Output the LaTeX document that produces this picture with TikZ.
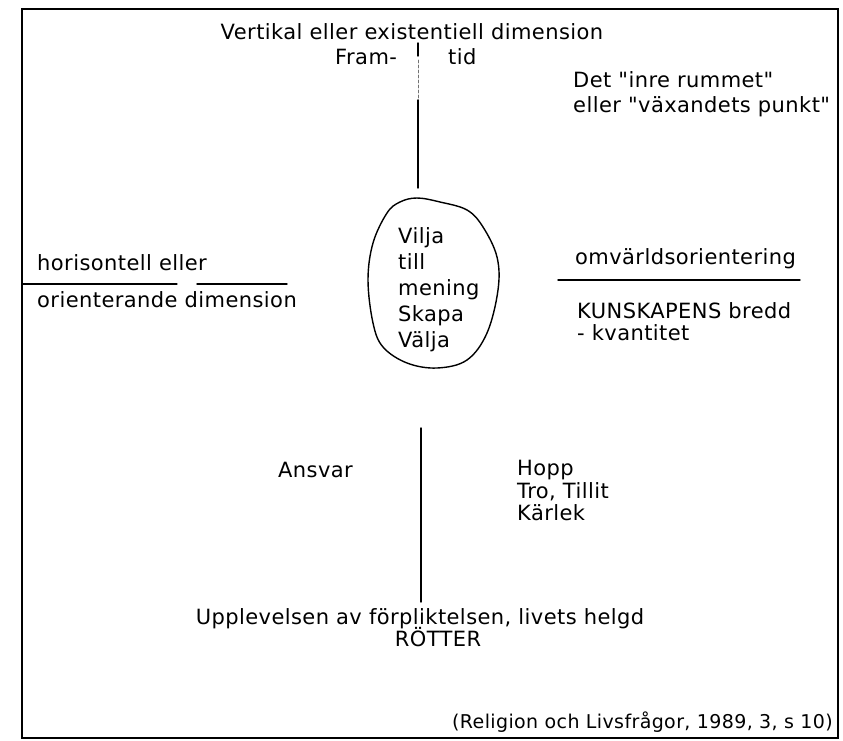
\documentclass[tikz,border=0pt]{standalone}
\usepackage{fontspec}
\setmainfont{DejaVu Sans}[LetterSpace=2.0,Ligatures=TeXOff]
\begin{document}
\begin{tikzpicture}[x=1pt,y=-1pt,line cap=round,
  t/.style={anchor=base west,inner sep=0pt,font=\fontsize{21}{25}\selectfont},
  tc/.style={t,anchor=base},
  cite/.style={anchor=base east,inner sep=0pt,font=\fontsize{19}{23}\selectfont},
  frame/.style={draw=black,line width=1.8pt},
  axis/.style={draw=black,line width=1.4pt},
  faint/.style={draw=black!55,line width=0.9pt,dash pattern=on 3pt off 2pt}]
\useasboundingbox (0,0) rectangle (843,741);
\draw[frame] (22,9) rectangle (838,738);
% texts
\node[tc] (head) at (412,40) {Vertikal eller existentiell dimension};
\node[t] (fram) at (335,65) {Fram-};
\node[t] (tid) at (448,65) {tid};
\node[t] (inre1) at (573,88) {Det "inre rummet"};
\node[t] (inre2) at (573,113) {eller "växandets punkt"};
\node[t] (hor1) at (37,270) {horisontell eller};
\node[t] (hor2) at (37,307) {orienterande dimension};
\node[t] (omv) at (575,264) {omvärldsorientering};
\node[t] (kun) at (577,318) {KUNSKAPENS bredd};
\node[t] (kva) at (577,340) {- kvantitet};
\node[t] (e1) at (398,243) {Vilja};
\node[t] (e2) at (398,269) {till};
\node[t] (e3) at (398,295) {mening};
\node[t] (e4) at (398,321) {Skapa};
\node[t] (e5) at (398,347) {Välja};
\node[t] (ansvar) at (278,477) {Ansvar};
\node[t] (hopp) at (517,475) {Hopp};
\node[t] (tro) at (517,498) {Tro, Tillit};
\node[t] (karlek) at (517,520) {Kärlek};
\node[tc] (uppl) at (420,624) {Upplevelsen av förpliktelsen, livets helgd};
\node[tc] (rotter) at (438,646) {RÖTTER};
\node[cite] (src) at (833,728) {(Religion och Livsfrågor, 1989, 3, s 10)};
% oval
\draw[line width=1.4pt] plot[smooth cycle,tension=0.6] coordinates {
  (417,198) (440,202) (467,210) (483,227) (497,257) (498,290)
  (487,333) (467,360) (437,368) (407,363) (383,347) (373,323)
  (368,280) (373,243) (387,213) (400,202)};
% axes
\coordinate (vt0) at (418,43);
\coordinate (vt1) at (418,56);
\coordinate (vt2) at (418,60);
\coordinate (vt3) at (418,100);
\coordinate (vt4) at (418,188);
\draw[axis] (vt0) -- (vt1);
\draw[faint] (vt2) -- (vt3);
\draw[axis] (vt3) -- (vt4);
\coordinate (hl0) at (22,284);
\coordinate (hl1) at (177,284);
\coordinate (hl2) at (197,284);
\coordinate (hl3) at (287,284);
\draw[axis,line width=1.1pt] (hl0) -- (hl1);
\draw[axis] (hl2) -- (hl3);
\coordinate (hr0) at (558,280);
\coordinate (hr1) at (800,280);
\draw[axis] (hr0) -- (hr1);
\coordinate (vb0) at (421,428);
\coordinate (vb1) at (421,602);
\draw[axis] (vb0) -- (vb1);
\end{tikzpicture}
\end{document}
